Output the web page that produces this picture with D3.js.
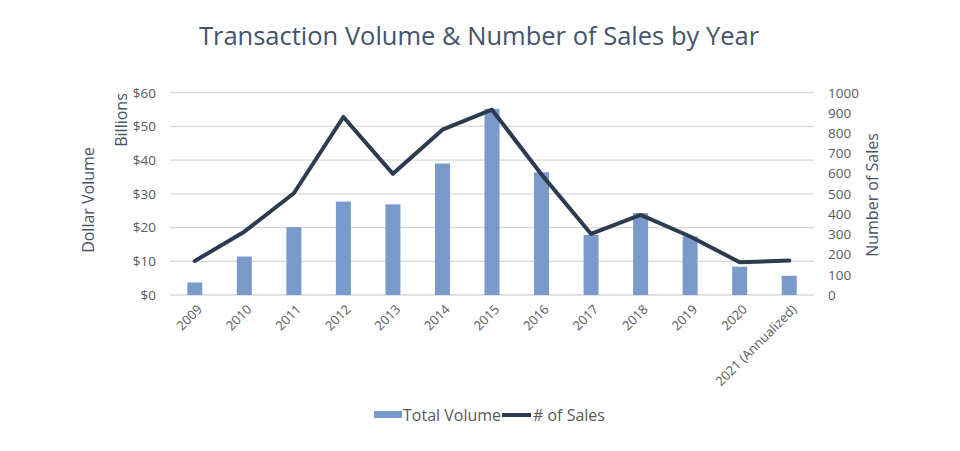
<!DOCTYPE html>
<html>
<head>
<meta charset="utf-8">
<script src="https://cdn.jsdelivr.net/npm/d3@7"></script>
<style>
  body { margin: 0; background: #fff; }
  svg { font-family: "Open Sans", "Noto Sans", sans-serif; }
</style>
</head>
<body>
<svg id="chart" width="960" height="451"></svg>
<script>
var years = ["2009","2010","2011","2012","2013","2014","2015","2016","2017","2018","2019","2020","2021 (Annualized)"];
var volume = [3.7, 11.4, 20.1, 27.7, 26.9, 39.0, 55.2, 36.4, 17.8, 24.3, 17.4, 8.4, 5.7];
var sales = [168, 313, 503, 880, 599, 817, 916, 596, 302, 396, 289, 162, 170];
var leftTicks = [0, 10, 20, 30, 40, 50, 60];
var rightTicks = [0, 100, 200, 300, 400, 500, 600, 700, 800, 900, 1000];

var svg = d3.select("#chart");
var margin = {left: 170, right: 146, top: 92.7, bottom: 156};
var W = 960, H = 451;

var xc = d3.scaleBand().domain(years).range([margin.left, W - margin.right]);
var yL = d3.scaleLinear().domain([0, 60]).range([H - margin.bottom, margin.top]);
var yR = d3.scaleLinear().domain([0, 1000]).range([H - margin.bottom, margin.top]);

// gridlines
svg.append("g").selectAll("line")
    .data(leftTicks)
    .enter()
    .append("line")
    .attr("x1", margin.left)
    .attr("x2", W - margin.right)
    .attr("y1", function(d){ return yL(d) })
    .attr("y2", function(d){ return yL(d) })
    .style("stroke", "#d9d9d9")
    .style("stroke-width", 1.3);

// bars
svg.append("g").selectAll("rect")
    .data(volume)
    .enter()
    .append("rect")
    .attr("x", function(d, i){ return xc(years[i]) + xc.bandwidth()/2 - 7.5 })
    .attr("width", 15)
    .attr("y", function(d){ return yL(d) })
    .attr("height", function(d){ return yL(0) - yL(d) })
    .style("fill", "#7a9acb");

// line
var line = d3.line()
    .x(function(d, i){ return xc(years[i]) + xc.bandwidth()/2 })
    .y(function(d){ return yR(d) });
svg.append("path")
    .datum(sales)
    .attr("d", line)
    .style("fill", "none")
    .style("stroke", "#2c3b4f")
    .style("stroke-width", 4)
    .style("stroke-linejoin", "round")
    .style("stroke-linecap", "round");

// left axis
var leftAxis = d3.axisLeft(yL).tickValues(leftTicks).tickSize(0).tickPadding(14)
    .tickFormat(function(d){ return "$" + d });
var gl = svg.append("g").attr("transform", "translate(" + margin.left + ",0)").call(leftAxis);
gl.select(".domain").remove();
gl.selectAll("text").style("font-size", "13.5px").style("fill", "#595959").style("font-family", "'Open Sans', sans-serif");

// right axis
var rightAxis = d3.axisRight(yR).tickValues(rightTicks).tickSize(0).tickPadding(14)
    .tickFormat(d3.format("d"));
var gr = svg.append("g").attr("transform", "translate(" + (W - margin.right) + ",0)").call(rightAxis);
gr.select(".domain").remove();
gr.selectAll("text").style("font-size", "13.5px").style("fill", "#595959").style("font-family", "'Open Sans', sans-serif");

// x labels
svg.append("g").selectAll("text")
    .data(years)
    .enter()
    .append("text")
    .attr("transform", function(d){
        return "translate(" + (xc(d) + xc.bandwidth()/2 + 5) + "," + (H - margin.bottom + 12) + ") rotate(-45)";
    })
    .attr("text-anchor", "end")
    .attr("dy", "0.35em")
    .style("font-size", "13px")
    .style("fill", "#595959")
    .text(function(d){ return d });

// axis titles
svg.append("text")
    .attr("transform", "translate(94,200) rotate(-90)")
    .attr("text-anchor", "middle")
    .style("font-size", "16px")
    .style("fill", "#44546a")
    .text("Dollar Volume");
svg.append("text")
    .attr("transform", "translate(127,120) rotate(-90)")
    .attr("text-anchor", "middle")
    .style("font-size", "16px")
    .style("fill", "#44546a")
    .text("Billions");
svg.append("text")
    .attr("transform", "translate(878,195) rotate(-90)")
    .attr("text-anchor", "middle")
    .style("font-size", "16px")
    .style("fill", "#44546a")
    .text("Number of Sales");

// title
svg.append("text")
    .attr("x", 479)
    .attr("y", 45)
    .attr("text-anchor", "middle")
    .style("font-size", "25.5px")
    .style("fill", "#44546a")
    .text("Transaction Volume & Number of Sales by Year");

// legend
var lg = svg.append("g");
lg.append("rect").attr("x", 374).attr("y", 411).attr("width", 28).attr("height", 7).style("fill", "#7a9acb");
lg.append("text").attr("x", 403).attr("y", 421).style("font-size", "16px").style("fill", "#595959").text("Total Volume");
lg.append("line").attr("x1", 502).attr("x2", 531).attr("y1", 415).attr("y2", 415)
    .style("stroke", "#2c3b4f").style("stroke-width", 4);
lg.append("text").attr("x", 533).attr("y", 421).style("font-size", "16px").style("fill", "#595959").text("# of Sales");
</script>
</body>
</html>
